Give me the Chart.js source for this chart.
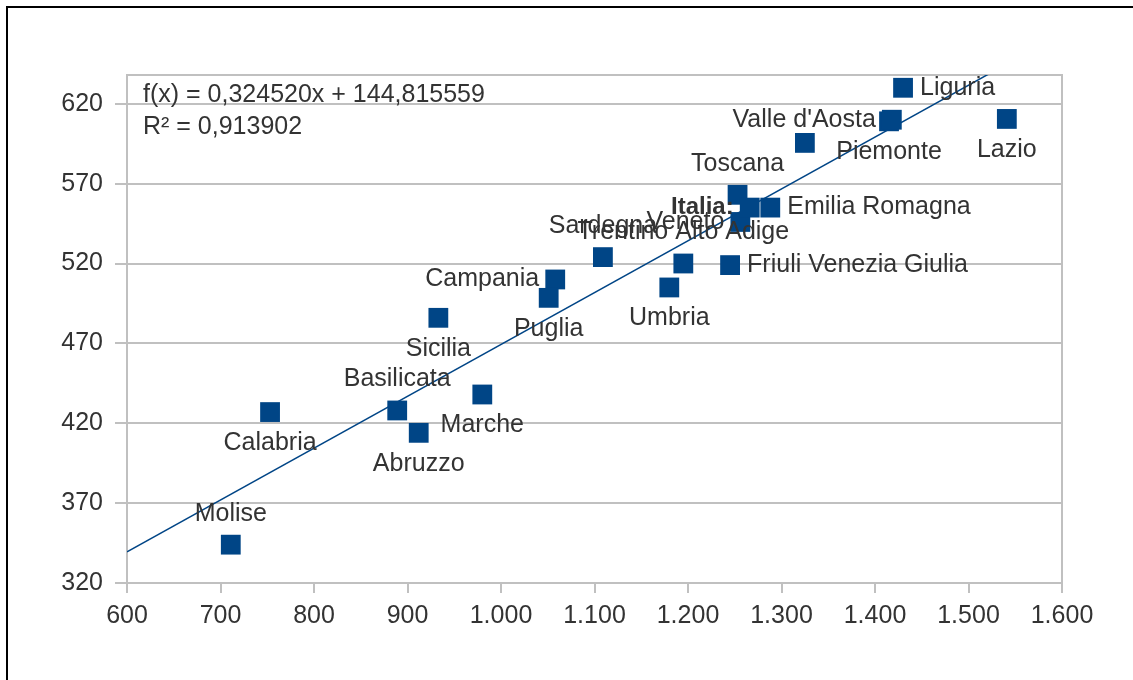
<!DOCTYPE html>
<html>
<head>
<meta charset="utf-8">
<title>Regioni italiane</title>
<script src="https://cdn.jsdelivr.net/npm/chart.js@4.4.0/dist/chart.umd.min.js"></script>
<style>
  html, body { margin: 0; padding: 0; background: #fff; overflow: hidden; }
  #frame { position: absolute; left: 6px; top: 6px; width: 2000px; height: 2000px; border: 2px solid #000; }
  #chart { position: absolute; left: 0; top: 0; }
</style>
</head>
<body>
<div id="frame"></div>
<canvas id="chart" width="1133" height="680"></canvas>
<script>
// Data
const regions = [
  "Piemonte", "Valle d'Aosta", "Lombardia", "Trentino Alto Adige", "Veneto",
  "Friuli Venezia Giulia", "Liguria", "Emilia Romagna", "Toscana", "Umbria",
  "Marche", "Lazio", "Abruzzo", "Molise", "Campania", "Puglia", "Basilicata",
  "Calabria", "Sicilia", "Sardegna", "Italia:"
];
const xValues = [1415, 1418, 1325, 1195, 1256, 1245, 1430, 1288, 1253, 1180,
                 980, 1541, 912, 711, 1058, 1051, 889, 753, 933, 1109, 1266];
const yValues = [609, 610, 595.5, 520, 546, 519, 630, 555, 563, 505,
                 438, 610.5, 414, 344, 510, 498.5, 428, 427, 486, 524, 555];

const xTicks = [600, 700, 800, 900, 1000, 1100, 1200, 1300, 1400, 1500, 1600];
const xTickLabels = ["600", "700", "800", "900", "1.000", "1.100", "1.200",
                     "1.300", "1.400", "1.500", "1.600"];
const yTicks = [320, 370, 420, 470, 520, 570, 620];

// Linear trend line as printed on the chart
const trendSlope = 0.324520;
const trendIntercept = 144.815559;
const rSquared = 0.913902;

// Where each point's label sits relative to its square
const labelSide = [
  "below", "left", "none", "above", "left",
  "right", "right", "right", "above", "below",
  "below", "below", "below", "above", "left", "below", "above",
  "below", "below", "above", "left"
];

const blue = "#004586";
const textColor = "#333333";
const gridColor = "#c0c0c0";
const font = "Liberation Sans, Arial, sans-serif";

const fmt = (v) => v.toFixed(6).replace(".", ",");

const pointLabels = {
  id: "pointLabels",
  afterDatasetsDraw(chart) {
    const ctx = chart.ctx;
    const meta = chart.getDatasetMeta(0);
    ctx.save();
    ctx.fillStyle = textColor;
    meta.data.forEach((pt, i) => {
      const side = labelSide[i];
      if (side === "none") return;
      ctx.font = (regions[i] === "Italia:" ? "bold 24px " : "25px ") + font;
      let x = pt.x, y = pt.y;
      ctx.textBaseline = "middle";
      if (side === "right") { ctx.textAlign = "left"; x += 17; }
      else if (side === "left") { ctx.textAlign = "right"; x -= 16; }
      else if (side === "above") { ctx.textAlign = "center"; y -= 31; }
      else { ctx.textAlign = "center"; y += 31; }
      ctx.fillText(regions[i], x, y);
    });
    ctx.restore();
  },
  afterDraw(chart) {
    const ctx = chart.ctx;
    const a = chart.chartArea;
    ctx.save();
    ctx.fillStyle = textColor;
    ctx.font = "25px " + font;
    ctx.textAlign = "left";
    ctx.textBaseline = "middle";
    ctx.fillText("f(x) = " + fmt(trendSlope) + "x + " + fmt(trendIntercept), a.left + 16, a.top + 20);
    ctx.fillText("R² = " + fmt(rSquared), a.left + 16, a.top + 52);
    ctx.restore();
  },
  beforeDatasetsDraw(chart) {
    const ctx = chart.ctx;
    const a = chart.chartArea;
    ctx.save();
    ctx.strokeStyle = gridColor;
    ctx.lineWidth = 2;
    ctx.strokeRect(a.left, a.top, a.right - a.left, a.bottom - a.top);
    ctx.restore();
  }
};

new Chart(document.getElementById("chart"), {
  type: "scatter",
  data: {
    datasets: [
      {
        label: "Regioni",
        data: regions.map((r, i) => ({ x: xValues[i], y: yValues[i] })),
        pointStyle: "rect",
        pointRadius: 14,
        pointHoverRadius: 14,
        backgroundColor: blue,
        borderColor: blue,
        borderWidth: 0,
      },
      {
        type: "line",
        label: "Tendenza",
        data: [600, 1600].map((x) => ({ x: x, y: trendSlope * x + trendIntercept })),
        borderColor: blue,
        borderWidth: 1.5,
        pointRadius: 0,
        fill: false,
      },
    ],
  },
  options: {
    responsive: false,
    animation: false,
    devicePixelRatio: 1,
    layout: { padding: { left: 0, top: 75, right: 71, bottom: 37 } },
    plugins: { legend: { display: false }, tooltip: { enabled: false } },
    scales: {
      x: {
        type: "linear",
        min: 600,
        max: 1600,
        afterBuildTicks: (axis) => { axis.ticks = xTicks.map((v) => ({ value: v })); },
        afterFit: (axis) => { axis.height = 60; },
        grid: { drawOnChartArea: false, drawTicks: true, tickLength: 10, color: gridColor, lineWidth: 2 },
        border: { display: false },
        ticks: {
          padding: 8,
          color: textColor,
          font: { family: font, size: 25 },
          maxRotation: 0,
          callback: (v) => xTickLabels[xTicks.indexOf(v)],
        },
      },
      y: {
        type: "linear",
        min: 320,
        max: 638,
        afterBuildTicks: (axis) => { axis.ticks = yTicks.map((v) => ({ value: v })); },
        afterFit: (axis) => { axis.width = 127; },
        grid: { drawTicks: true, tickLength: 12, color: gridColor, lineWidth: 2 },
        border: { display: false },
        ticks: {
          padding: 12,
          color: textColor,
          font: { family: font, size: 25 },
          callback: (v) => String(v),
        },
      },
    },
  },
  plugins: [pointLabels],
});
</script>
</body>
</html>
